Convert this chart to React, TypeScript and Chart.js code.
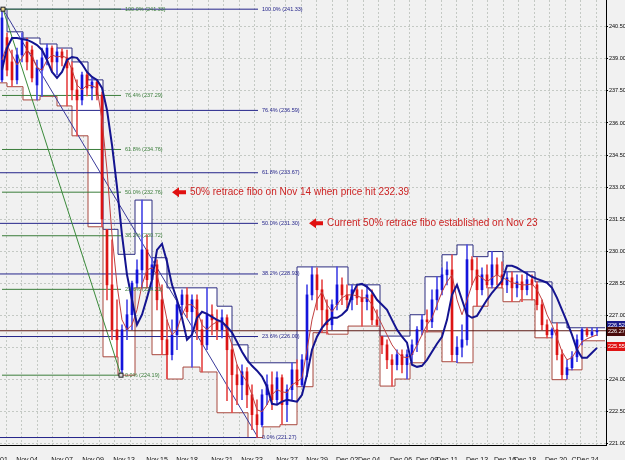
import React, { useEffect, useRef } from 'react';
import { Chart, registerables } from 'chart.js';
Chart.register(...registerables);

// ---- candles (one bar per slot, index 0..119) ----
const opens = [238.02,240.00,238.86,238.02,239.19,239.79,239.42,237.78,238.48,239.05,239.51,238.86,239.33,239.05,238.58,237.55,237.08,238.25,237.64,237.92,
237.31,231.00,228.42,226.32,224.44,226.32,227.02,228.50,229.12,230.06,228.66,229.36,227.72,225.85,225.15,226.08,227.49,227.95,227.16,227.72,
226.32,225.61,227.02,226.78,226.32,226.88,225.38,224.21,223.74,224.35,223.27,222.34,221.87,223.27,223.74,223.04,224.07,222.81,223.51,224.44,
223.74,224.91,227.95,228.89,228.19,227.25,226.55,227.49,228.42,227.95,227.72,228.19,227.81,227.63,227.95,226.78,226.00,225.61,224.91,224.68,
225.15,224.68,225.15,225.61,226.32,226.78,226.69,227.72,228.19,228.89,229.12,225.15,225.50,225.85,229.60,229.12,228.19,228.89,228.42,229.36,
228.89,228.42,228.75,228.28,228.56,228.19,228.66,228.42,227.49,226.55,226.08,226.32,225.15,224.21,224.54,225.05,225.85,226.32,226.08,226.22];
const closes = [240.92,238.48,238.02,239.19,239.89,238.86,238.11,238.58,239.05,239.51,238.86,239.33,239.05,238.58,237.55,237.08,238.25,237.64,237.92,237.31,
231.50,228.42,226.32,225.85,226.32,227.02,228.50,229.12,230.06,228.66,229.36,227.72,225.85,225.15,226.08,227.49,227.95,227.16,227.72,226.32,
225.61,227.02,226.78,226.32,226.88,225.38,224.21,223.74,224.35,223.27,222.34,221.87,223.27,223.74,223.04,224.07,222.81,223.51,224.44,223.74,
224.91,227.95,228.89,228.19,227.25,226.55,227.49,228.42,227.95,227.72,228.19,227.81,227.63,227.95,226.78,226.55,225.61,224.91,224.68,225.15,
224.68,225.15,225.61,226.32,226.78,226.69,227.72,228.19,228.89,229.12,225.15,225.50,225.85,229.60,229.12,228.19,228.89,228.42,229.36,228.89,
228.42,228.75,228.28,228.56,228.19,228.66,228.42,227.49,226.55,226.08,226.32,225.15,224.21,224.54,225.05,225.85,226.32,226.08,226.22,226.27];
const highs = [241.33,240.22,239.42,239.51,240.22,239.98,239.61,238.95,239.51,239.70,239.61,239.51,239.47,239.42,238.86,238.02,238.39,238.39,238.11,238.02,
237.45,231.02,230.53,227.72,226.55,227.72,228.60,229.59,232.39,230.76,229.69,229.59,228.42,226.78,226.78,227.72,228.19,228.28,227.95,227.95,
226.78,228.28,227.49,227.25,227.25,227.02,225.61,224.68,224.68,224.54,223.74,223.04,223.51,224.21,224.35,224.35,224.21,223.74,224.77,224.91,
225.15,228.42,229.26,229.22,228.66,227.72,227.72,229.26,228.75,228.42,228.42,228.42,228.19,228.42,228.19,227.25,226.02,225.85,225.15,225.38,
225.38,225.38,225.85,226.46,227.02,227.25,228.19,228.80,229.22,229.50,229.83,226.00,226.55,230.29,229.74,229.70,229.22,229.36,229.98,229.69,
229.50,229.03,229.03,228.89,228.89,229.03,228.89,228.56,227.72,226.78,226.41,226.64,225.38,224.91,225.29,226.08,226.41,226.41,226.41,226.41];
const lows = [237.92,238.20,237.70,237.83,238.86,238.48,237.92,237.08,237.25,238.72,238.39,238.25,238.67,236.80,237.08,235.40,236.85,237.27,237.08,237.08,
231.14,227.72,225.85,225.05,224.19,225.85,226.32,228.30,228.30,228.30,228.19,227.25,225.15,224.01,224.91,225.38,227.02,226.88,224.57,225.85,
224.34,225.38,226.08,225.85,225.94,223.00,222.43,222.81,223.04,222.67,221.64,221.27,221.77,222.81,222.57,222.81,221.87,222.01,223.04,223.65,
223.65,224.12,227.72,227.25,226.18,226.11,226.32,227.25,227.49,227.35,227.25,227.49,226.49,227.25,226.55,226.49,225.20,224.50,223.68,224.44,
224.30,224.01,224.77,225.29,226.08,226.22,226.41,227.25,227.95,228.42,224.82,224.77,225.05,225.60,228.42,227.42,227.95,228.28,228.28,228.42,
228.28,228.05,227.63,227.86,227.63,227.95,227.72,227.25,226.32,225.94,225.94,224.91,223.98,224.01,224.44,224.82,225.61,225.99,226.00,226.04];

// ---- moving averages ----
const maSlow = [238.48,239.51,239.98,239.98,239.93,239.89,239.79,239.65,239.42,238.95,238.39,238.11,238.39,238.95,239.09,239.05,238.76,238.39,238.16,238.02,
237.64,236.61,234.97,233.01,230.76,228.89,227.72,226.55,227.02,227.81,228.66,230.06,230.34,229.50,228.42,227.72,226.88,225.85,226.08,226.88,
227.16,227.06,226.92,226.78,226.69,226.46,226.18,225.75,225.29,224.91,224.63,224.40,224.12,223.65,222.85,222.81,222.95,223.04,222.99,222.95,
223.27,224.21,225.38,225.99,226.41,226.69,226.88,226.88,227.02,227.25,227.95,228.42,228.47,228.33,228.09,227.72,227.49,227.25,226.78,226.32,
225.99,225.71,224.68,224.58,224.63,224.91,225.29,225.66,225.99,226.78,227.95,228.42,227.72,227.02,226.88,226.97,227.35,227.72,228.05,228.33,
228.61,229.31,229.31,229.22,229.08,228.94,228.80,228.70,228.61,228.52,228.28,227.81,227.25,226.69,226.08,225.38,225.01,225.01,225.24,225.47];
const maFast = [238.95,239.65,239.19,238.72,239.05,239.42,239.19,238.58,238.48,238.95,239.19,239.09,239.14,239.05,238.48,237.78,237.55,237.78,237.74,237.64,
236.14,233.80,230.76,228.42,226.78,226.32,226.55,227.25,228.42,229.12,229.22,228.89,227.95,226.78,226.08,226.32,227.02,227.49,227.49,227.25,
226.55,226.32,226.55,226.69,226.69,226.32,225.61,224.68,224.21,223.88,223.27,222.57,222.48,222.81,223.27,223.51,223.41,223.37,223.74,223.88,
224.07,225.38,226.78,227.72,228.09,227.49,227.16,227.49,227.81,227.95,227.95,227.91,227.81,227.81,227.49,227.02,226.55,226.08,225.61,225.29,
225.05,225.01,225.15,225.61,226.08,226.55,226.88,227.49,228.09,228.56,228.89,227.72,227.02,227.72,228.42,228.89,228.75,228.56,228.75,228.89,
228.75,228.66,228.52,228.47,228.42,228.42,228.47,228.19,227.72,227.02,226.55,225.94,225.29,224.91,225.01,225.38,225.75,225.89,225.99,226.08];

// ---- daily range boxes ----
const boxStart = [-0.4,1.0,4.2,7.6,11.0,14.0,17.2,20.2,23.2,26.6,30.0,33.0,36.2,39.6,43.0,46.0,49.2,52.2,55.6,59.0,
62.2,65.2,69.2,72.4,75.6,78.6,81.6,84.6,88.0,91.0,94.2,97.2,100.2,103.6,106.6,110.0,113.0,116.0];
const boxHigh = [241.33,240.27,239.98,239.70,239.51,238.86,238.02,231.02,229.85,232.39,229.69,228.28,228.28,228.28,227.42,225.61,224.77,224.77,224.77,229.26,
229.26,229.26,228.42,228.42,226.02,226.02,227.02,228.80,229.83,230.29,229.74,229.98,229.03,229.03,228.56,226.64,226.41,226.41];
const boxLow = [237.88,237.70,237.08,237.25,236.80,235.40,231.14,225.05,224.19,228.28,225.15,224.01,224.57,224.34,222.43,222.43,221.27,221.77,221.87,223.65,
226.18,226.11,226.49,226.49,223.68,224.01,224.77,226.22,224.82,224.77,227.42,228.28,227.63,227.72,225.94,223.98,224.44,225.80];
const boxEnd = 120.6;

// ---- fibonacci retracements ----
const fiboPct = ['100.0%', '76.4%', '61.8%', '50.0%', '38.2%', '23.6%', '0.0%'];
const fiboGreen = [241.33, 237.29, 234.76, 232.76, 230.72, 228.21, 224.19];
const fiboNavy = [241.33, 236.59, 233.67, 231.30, 228.93, 226.00, 221.27];
const greenSpan = [0, 23.8];
const navySpan = [-0.4, 51.2];
const greenLabelAt = 24.6;
const navyLabelAt = 52.0;
const greenSwing = [{ x: 0.2, y: 241.33 }, { x: 23.8, y: 224.19 }];
const navySwing = [{ x: 0.2, y: 241.33 }, { x: 51.2, y: 221.27 }];

// ---- price lines / tags ----
const bidPrice = 226.27;
const tagValues = [226.52, 226.27, 225.55];
const tagColors = ['#1c1c8c', '#4a0c0c', '#e01414'];

// ---- notes ----
const noteTexts = ['50% retrace fibo on Nov 14 when price hit 232.39', 'Current 50% retrace fibo established on Nov 23'];
const noteX = [37.6, 65.0];
const noteY = [232.76, 231.30];

// ---- axes ----
const xLabels = ['Nov.01','Nov.04','Nov.07','Nov.09','Nov.13','Nov.15','Nov.18','Nov.21','Nov.23','Nov.27','Nov.29',
'Dec.02','Dec.04','Dec.06','Dec.09','Dec.11','Dec.13','Dec.16','Dec.18','Dec.20','CDec.24'];
const xLabelPos = [-1.0,5.0,12.0,18.2,24.4,31.0,37.0,44.0,50.0,57.0,63.0,69.0,73.4,79.8,85.0,89.0,95.0,100.6,104.6,110.8,116.6];
const yTicks = [221.0,222.5,224.0,225.5,227.0,228.5,230.0,231.5,233.0,234.5,236.0,237.5,239.0,240.5];

const X_MIN = -0.4, X_MAX = 120.8, Y_MIN = 220.92, Y_MAX = 241.76;
const UP = '#1414dc', DOWN = '#dc1414';
const FONT = '"Liberation Sans", Arial, sans-serif';

const noPad = (s: any) => { s.paddingLeft = 0; s.paddingRight = 0; s.paddingTop = 0; s.paddingBottom = 0; };

const overlay = {
  id: 'overlay',
  beforeDraw(chart: any) {
    const c = chart.ctx;
    c.save();
    c.fillStyle = '#f1f1f1';
    c.fillRect(0, 0, chart.width, chart.height);
    c.restore();
  },
  afterDatasetsDraw(chart: any) {
    const c = chart.ctx;
    const xs = chart.scales.x, ys = chart.scales.y;
    c.save();
    c.font = `5.5px ${FONT}`;
    c.textBaseline = 'middle';
    fiboGreen.forEach((v, k) => {
      c.fillStyle = '#3a7d3a';
      c.fillText(`${fiboPct[k]} (${v.toFixed(2)})`, xs.getPixelForValue(greenLabelAt), ys.getPixelForValue(v));
    });
    fiboNavy.forEach((v, k) => {
      c.fillStyle = '#24248a';
      c.fillText(`${fiboPct[k]} (${v.toFixed(2)})`, xs.getPixelForValue(navyLabelAt), ys.getPixelForValue(v));
    });
    const m1x = xs.getPixelForValue(greenSwing[0].x), m1y = ys.getPixelForValue(greenSwing[0].y);
    c.fillStyle = '#e8d890'; c.strokeStyle = '#222'; c.lineWidth = 1;
    c.fillRect(m1x - 2, m1y - 2, 4, 4); c.strokeRect(m1x - 2, m1y - 2, 4, 4);
    const m2x = xs.getPixelForValue(greenSwing[1].x), m2y = ys.getPixelForValue(greenSwing[1].y);
    c.fillStyle = '#ddd';
    c.fillRect(m2x - 2, m2y - 2, 4, 4); c.strokeRect(m2x - 2, m2y - 2, 4, 4);
    noteTexts.forEach((t, k) => {
      const tx = xs.getPixelForValue(noteX[k]);
      const ty = ys.getPixelForValue(noteY[k]);
      c.fillStyle = '#e01010';
      c.beginPath();
      const tip = tx - 18, tail = tx - 4;
      c.moveTo(tip, ty);
      c.lineTo(tip + 7, ty - 5);
      c.lineTo(tip + 7, ty - 2);
      c.lineTo(tail, ty - 2);
      c.lineTo(tail, ty + 2);
      c.lineTo(tip + 7, ty + 2);
      c.lineTo(tip + 7, ty + 5);
      c.closePath();
      c.fill();
      c.fillStyle = '#cc2222';
      c.font = `10px ${FONT}`;
      c.textBaseline = 'middle';
      c.fillText(t, tx, ty);
    });
    c.restore();
  },
  afterDraw(chart: any) {
    const c = chart.ctx;
    const ys = chart.scales.y;
    const left = chart.chartArea.right + 1;
    c.save();
    c.font = `5.5px ${FONT}`;
    c.textBaseline = 'middle';
    tagValues.forEach((v, k) => {
      const y = ys.getPixelForValue(v);
      c.fillStyle = tagColors[k];
      c.fillRect(left, Math.round(y) - 4, chart.width - left, 9);
      c.fillStyle = '#ffffff';
      c.fillText(v.toFixed(2), left + 1, Math.round(y) + 0.5);
    });
    c.restore();
  },
};

export default function App() {
  const ref = useRef<HTMLCanvasElement>(null);
  useEffect(() => {
    const canvas = ref.current;
    if (!canvas) return;
    const bodyColors = opens.map((o, i) => (closes[i] >= o ? UP : DOWN));
    const wickColors = opens.map((o, i) => (closes[i] >= o ? '#4a4ae6' : '#e64a4a'));
    const line = (data: any[], color: string, width: number, order: number, extra: any = {}) => ({
      type: 'line', data, borderColor: color, borderWidth: width, pointRadius: 0, fill: false, order, ...extra,
    });
    const lastBox = boxStart.length - 1;
    const datasets: any[] = [
      line(boxStart.map((s, k) => ({ x: s, y: boxHigh[k] })).concat([{ x: boxEnd, y: boxHigh[lastBox] }]), '#2c2c80', 1, 20,
        { stepped: true, fill: '+1', backgroundColor: '#ffffff' }),
      line(boxStart.map((s, k) => ({ x: s, y: boxLow[k] })).concat([{ x: boxEnd, y: boxLow[lastBox] }]), '#a8483e', 1, 19,
        { stepped: true }),
    ];
    fiboGreen.forEach((v) => datasets.push(line([{ x: greenSpan[0], y: v }, { x: greenSpan[1], y: v }], '#3a7d3a', 1, 15)));
    fiboNavy.forEach((v) => datasets.push(line([{ x: navySpan[0], y: v }, { x: navySpan[1], y: v }], '#24248a', 1, 15)));
    datasets.push(line(greenSwing, '#3a8a3a', 1, 14));
    datasets.push(line(navySwing, '#3a3a9a', 1, 14));
    datasets.push(line([{ x: X_MIN, y: bidPrice }, { x: X_MAX, y: bidPrice }], '#5c1a14', 1, 13));
    datasets.push({
      type: 'bar', data: lows.map((l, i) => ({ x: i, y: [l, highs[i]] })), backgroundColor: wickColors,
      barThickness: 1, grouped: false, order: 6,
    });
    datasets.push({
      type: 'bar', data: opens.map((o, i) => ({ x: i, y: [o, closes[i]] })), backgroundColor: bodyColors,
      barThickness: 2, minBarLength: 1, grouped: false, order: 5,
    });
    datasets.push(line(maFast.map((v, i) => ({ x: i, y: v })), '#c04040', 1, 2));
    datasets.push(line(maSlow.map((v, i) => ({ x: i, y: v })), '#141490', 2, 1));

    const chart = new Chart(canvas, {
      type: 'bar',
      data: { datasets },
      plugins: [overlay as any],
      options: {
        animation: false,
        responsive: false,
        devicePixelRatio: 1,
        events: [],
        layout: { padding: 0, autoPadding: false },
        plugins: { legend: { display: false }, tooltip: { enabled: false } },
        scales: {
          x: {
            type: 'linear', position: 'bottom', min: X_MIN, max: X_MAX, offset: false,
            grid: { display: false, offset: false },
            border: { display: true, color: '#000000', width: 1 },
            ticks: {
              autoSkip: false, maxRotation: 0, minRotation: 0, padding: 3, color: '#111111',
              font: { size: 7, family: FONT },
              callback: (_v: any, i: number) => xLabels[i],
            },
            afterBuildTicks: (s: any) => { s.ticks = xLabelPos.map((v) => ({ value: v })); },
            afterFit: (s: any) => { s.height = 15; noPad(s); },
          } as any,
          xg: {
            type: 'linear', position: 'top', min: X_MIN, max: X_MAX, offset: false,
            grid: { display: true, offset: false, color: '#c4c9c4', lineWidth: 1, drawTicks: false },
            border: { display: false, dash: [2, 2] },
            ticks: { display: false },
            afterBuildTicks: (s: any) => {
              const t: any[] = [];
              for (let v = 0.84; v < X_MAX; v += 3.106) t.push({ value: v });
              s.ticks = t;
            },
            afterFit: (s: any) => { s.height = 0; noPad(s); },
          } as any,
          y: {
            type: 'linear', position: 'right', min: Y_MIN, max: Y_MAX, beginAtZero: false,
            grid: { color: '#c4c9c4', lineWidth: 1, drawTicks: true, tickLength: 2, tickColor: '#000000', tickBorderDash: [] },
            border: { display: true, color: '#000000', width: 1, dash: [2, 2] },
            ticks: {
              padding: 1, color: '#000000', font: { size: 5.5, family: FONT },
              callback: (v: any) => Number(v).toFixed(2),
            },
            afterBuildTicks: (s: any) => { s.ticks = yTicks.map((v) => ({ value: v })); },
            afterFit: (s: any) => { s.width = 19; noPad(s); },
          } as any,
        },
      } as any,
    });
    return () => chart.destroy();
  }, []);
  return (
    <div style={{ position: 'fixed', left: 0, top: 0, width: 625, height: 460 }}>
      <canvas ref={ref} width={625} height={460} style={{ display: 'block', width: 625, height: 460 }} />
    </div>
  );
}
